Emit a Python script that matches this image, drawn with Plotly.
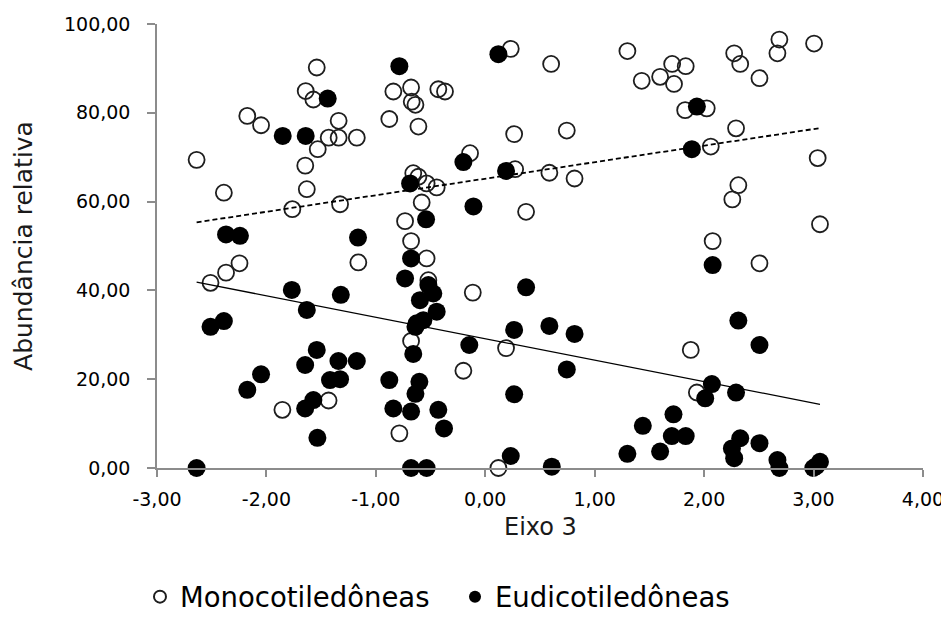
import plotly.graph_objects as go

# ---- data ----
mono_x = [-2.638, -2.511, -2.389, -2.369, -2.246, -2.175, -2.049, -1.854, -1.763, -1.645,
          -1.641, -1.631, -1.571, -1.540, -1.531, -1.431, -1.432, -1.340, -1.340, -1.327,
          -1.174, -1.160, -0.877, -0.840, -0.785, -0.733, -0.678, -0.672, -0.638, -0.678,
          -0.678, -0.658, -0.611, -0.611, -0.581, -0.536, -0.536, -0.520, -0.444, -0.429,
          -0.368, -0.200, -0.139, -0.114, 0.120, 0.190, 0.233, 0.264, 0.273, 0.373,
          0.586, 0.602, 0.745, 0.816, 1.299, 1.430, 1.598, 1.708, 1.725, 1.832,
          1.827, 1.878, 1.934, 2.024, 2.061, 2.078, 2.258, 2.275, 2.292, 2.313,
          2.330, 2.506, 2.506, 2.670, 2.688, 3.005, 3.038, 3.059]
mono_y = [69.4, 41.7, 62.0, 44.0, 46.1, 79.3, 77.2, 13.1, 58.3, 68.1,
          84.9, 62.8, 83.0, 90.2, 71.8, 74.4, 15.2, 78.2, 74.4, 59.4,
          74.4, 46.3, 78.6, 84.8, 7.8, 55.6, 85.7, 82.5, 81.8, 51.1,
          28.6, 66.4, 65.6, 76.9, 59.8, 47.2, 64.1, 42.3, 63.2, 85.3,
          84.8, 21.9, 70.9, 39.5, 0.0, 27.0, 94.4, 75.2, 67.3, 57.7,
          66.5, 91.0, 76.0, 65.2, 93.9, 87.2, 88.1, 91.0, 86.5, 90.5,
          80.6, 26.6, 17.0, 81.0, 72.4, 51.1, 60.5, 93.4, 76.5, 63.7,
          91.0, 87.8, 46.1, 93.4, 96.5, 95.6, 69.8, 54.9]

eudi_x = [-2.638, -2.511, -2.389, -2.369, -2.242, -2.175, -2.049, -1.851, -1.768, -1.646,
          -1.646, -1.641, -1.631, -1.571, -1.540, -1.534, -1.440, -1.419, -1.342, -1.327,
          -1.320, -1.174, -1.163, -0.877, -0.840, -0.785, -0.733, -0.687, -0.678, -0.678,
          -0.678, -0.658, -0.638, -0.627, -0.638, -0.602, -0.597, -0.566, -0.541, -0.520,
          -0.475, -0.444, -0.536, -0.429, -0.377, -0.200, -0.146, -0.108, 0.120, 0.190,
          0.233, 0.264, 0.264, 0.373, 0.586, 0.608, 0.745, 0.816, 1.299, 1.440,
          1.598, 1.705, 1.720, 1.832, 1.888, 1.934, 2.010, 2.071, 2.078, 2.254,
          2.275, 2.292, 2.313, 2.330, 2.506, 2.506, 2.670, 2.688, 2.998, 3.024, 3.059]
eudi_y = [0.0, 31.8, 33.1, 52.6, 52.3, 17.6, 21.1, 74.8, 40.1, 23.2,
          13.4, 74.8, 35.6, 15.3, 26.6, 6.8, 83.2, 19.8, 24.1, 20.0,
          39.0, 24.1, 51.9, 19.8, 13.4, 90.5, 42.7, 64.1, 47.2, 12.7,
          0.0, 25.7, 31.8, 32.6, 16.7, 19.4, 37.8, 33.3, 56.0, 41.2,
          39.3, 35.2, 0.0, 13.1, 8.9, 68.9, 27.7, 58.9, 93.2, 66.9,
          2.7, 31.1, 16.6, 40.7, 32.0, 0.3, 22.2, 30.2, 3.2, 9.5,
          3.7, 7.2, 12.1, 7.2, 71.8, 81.4, 15.7, 18.9, 45.7, 4.4,
          2.2, 17.0, 33.2, 6.7, 27.7, 5.6, 1.8, 0.0, 0.0, 0.4, 1.4]

# linear trend lines (intercept, slope)
mono_trend = (65.16, 3.725)
eudi_trend = (29.12, -4.83)

x_ticks = [-3, -2, -1, 0, 1, 2, 3, 4]
x_tick_labels = ["-3,00", "-2,00", "-1,00", "0,00", "1,00", "2,00", "3,00", "4,00"]
y_ticks = [0, 20, 40, 60, 80, 100]
y_tick_labels = ["0,00", "20,00", "40,00", "60,00", "80,00", "100,00"]

series_names = ["Monocotiledôneas", "Eudicotiledôneas"]
x_title = "Eixo 3"
y_title = "Abundância relativa"

FONT = "DejaVu Sans"
AXIS_COLOR = "#8c8c8c"

fig = go.Figure()
fig.add_trace(go.Scatter(
    x=mono_x, y=mono_y, mode="markers", name=series_names[0], cliponaxis=False,
    marker=dict(symbol="circle-open", size=16, color="#1e1e1e", line=dict(width=1.8)),
))
fig.add_trace(go.Scatter(
    x=eudi_x, y=eudi_y, mode="markers", name=series_names[1], cliponaxis=False,
    marker=dict(symbol="circle", size=18, color="#000000", line=dict(width=0)),
))


def trend(xs, coef):
    lo, hi = min(xs), max(xs)
    return [lo, hi], [coef[0] + coef[1] * lo, coef[0] + coef[1] * hi]


tx, ty = trend(mono_x, mono_trend)
fig.add_trace(go.Scatter(x=tx, y=ty, mode="lines", showlegend=False, hoverinfo="skip",
                         line=dict(color="#000000", width=1.8, dash="5px,3px")))
tx, ty = trend(eudi_x, eudi_trend)
fig.add_trace(go.Scatter(x=tx, y=ty, mode="lines", showlegend=False, hoverinfo="skip",
                         line=dict(color="#000000", width=1.3)))

axis_common = dict(
    showline=True, linecolor=AXIS_COLOR, linewidth=1.5,
    ticks="outside", tickcolor=AXIS_COLOR, tickwidth=1.5,
    showgrid=False, zeroline=False, ticklabeloverflow="allow", automargin=False,
    tickfont=dict(family=FONT, size=19, color="#000000"),
)

# the page adds an 8 px body margin, so the figure is 8 px smaller and margins shifted
fig.update_layout(
    width=941, height=629,
    margin=dict(l=149, r=26, t=16, b=169),
    plot_bgcolor="white", paper_bgcolor="white",
    font=dict(family=FONT, color="#000000"),
    xaxis=dict(range=[-3, 4.0005], tickvals=x_ticks, ticktext=x_tick_labels,
               ticklen=7, ticklabelstandoff=6, **axis_common),
    yaxis=dict(range=[0, 100], tickvals=y_ticks, ticktext=y_tick_labels,
               ticklen=8, ticklabelstandoff=13, **axis_common),
    showlegend=True,
    legend=dict(orientation="h", x=-0.0222, xanchor="left", y=-0.29, yanchor="middle",
                font=dict(family=FONT, size=27.5, color="#000000"),
                entrywidth=270, entrywidthmode="pixels",
                itemsizing="constant", traceorder="normal", bgcolor="rgba(0,0,0,0)"),
    annotations=[
        dict(text=y_title, xref="paper", yref="paper", x=-0.175, y=0.5,
             xanchor="center", yanchor="middle", textangle=-90, showarrow=False,
             font=dict(family=FONT, size=25, color="#1a1a1a")),
        dict(text=x_title, xref="paper", yref="paper", x=0.5, y=-0.134,
             xanchor="center", yanchor="middle", showarrow=False,
             font=dict(family=FONT, size=24, color="#1a1a1a")),
    ],
)

fig.write_html("out.html")
